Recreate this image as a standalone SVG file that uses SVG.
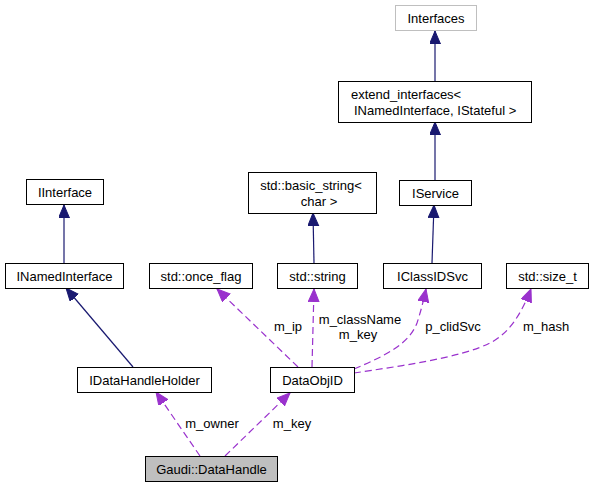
<svg xmlns="http://www.w3.org/2000/svg" width="594" height="488" viewBox="0 0 594 488">
<style>
.n rect{fill:#fff;stroke:#000;stroke-width:1}
.n text{font-family:"Liberation Sans",Arial,sans-serif;font-size:13px;fill:#000;text-anchor:middle}
.l{font-family:"Liberation Sans",Arial,sans-serif;font-size:13px;fill:#000;text-anchor:middle}
.inh{fill:none;stroke:#191970;stroke-width:1.2}
.use{fill:none;stroke:#9a32cd;stroke-width:1.2;stroke-dasharray:7,4}
</style>
<defs>
<marker id="ab" markerUnits="userSpaceOnUse" markerWidth="15" markerHeight="12" refX="13" refY="5.5" orient="auto"><path d="M0,0 L13,5.5 L0,11 z" fill="#191970" stroke="#191970"/></marker>
<marker id="ap" markerUnits="userSpaceOnUse" markerWidth="15" markerHeight="12" refX="13" refY="5.5" orient="auto"><path d="M0,0 L13,5.5 L0,11 z" fill="#9a32cd" stroke="#9a32cd"/></marker>
</defs>
<rect width="594" height="488" fill="#fff"/>
<g id="edges">
<path class="inh" d="M435,81 L435,31" marker-end="url(#ab)"/>
<path class="inh" d="M435,180 L435,122" marker-end="url(#ab)"/>
<path class="inh" d="M432,263 L434,205" marker-end="url(#ab)"/>
<path class="inh" d="M64,263 L64,205" marker-end="url(#ab)"/>
<path class="inh" d="M314,263 L313,213" marker-end="url(#ab)"/>
<path class="inh" d="M133,367 L66,288" marker-end="url(#ab)"/>
<path class="use" d="M298,367 L217,289" marker-end="url(#ap)"/>
<path class="use" d="M312,367 L314,289" marker-end="url(#ap)"/>
<path class="use" d="M354,369 C385,356 409,344 417,323 C420,314 423,303 426,289" marker-end="url(#ap)"/>
<path class="use" d="M354,373 C400,366 460,358 490,343 C510,333 522,312 531,289" marker-end="url(#ap)"/>
<path class="use" d="M200,456 L156,392" marker-end="url(#ap)"/>
<path class="use" d="M225,456 L290,393" marker-end="url(#ap)"/>
<text class="l" x="288" y="331">m_ip</text>
<text class="l" x="360" y="324">m_className</text>
<text class="l" x="358" y="339">m_key</text>
<text class="l" x="453" y="331">p_clidSvc</text>
<text class="l" x="546" y="331">m_hash</text>
<text class="l" x="212" y="428">m_owner</text>
<text class="l" x="292" y="428">m_key</text>
</g>
<g id="Interfaces" class="n"><rect x="395.5" y="5.5" width="81" height="25" style="stroke:#bfbfbf"/><text x="436" y="22.5">Interfaces</text></g>
<g id="extend_interfaces" class="n"><rect x="338.5" y="81.5" width="193" height="41"/><text x="351" y="99" style="text-anchor:start">extend_interfaces&lt;</text><text x="354" y="115" style="text-anchor:start">INamedInterface, IStateful &gt;</text></g>
<g id="IService" class="n"><rect x="399.5" y="180.5" width="72" height="25"/><text x="435.5" y="197.5">IService</text></g>
<g id="basic_string" class="n"><rect x="248.5" y="172.5" width="128" height="41"/><text x="311" y="190">std::basic_string&lt;</text><text x="319" y="206">char &gt;</text></g>
<g id="IInterface" class="n"><rect x="26.5" y="179.5" width="77" height="25"/><text x="65" y="196.5">IInterface</text></g>
<g id="INamedInterface" class="n"><rect x="5.5" y="263.5" width="118" height="25"/><text x="64.5" y="280.5">INamedInterface</text></g>
<g id="once_flag" class="n"><rect x="149.5" y="263.5" width="103" height="25"/><text x="201" y="280.5">std::once_flag</text></g>
<g id="string" class="n"><rect x="277.5" y="263.5" width="80" height="25"/><text x="317.5" y="280.5">std::string</text></g>
<g id="IClassIDSvc" class="n"><rect x="383.5" y="263.5" width="98" height="25"/><text x="432.5" y="280.5">IClassIDSvc</text></g>
<g id="size_t" class="n"><rect x="506.5" y="263.5" width="82" height="25"/><text x="547.5" y="280.5">std::size_t</text></g>
<g id="IDataHandleHolder" class="n"><rect x="77.5" y="367.5" width="134" height="25"/><text x="144.5" y="384.5">IDataHandleHolder</text></g>
<g id="DataObjID" class="n"><rect x="270.5" y="367.5" width="84" height="25"/><text x="312.5" y="384.5">DataObjID</text></g>
<g id="DataHandle" class="n"><rect x="145.5" y="456.5" width="132" height="25" style="fill:#bfbfbf"/><text x="211.5" y="473.5">Gaudi::DataHandle</text></g>
</svg>
